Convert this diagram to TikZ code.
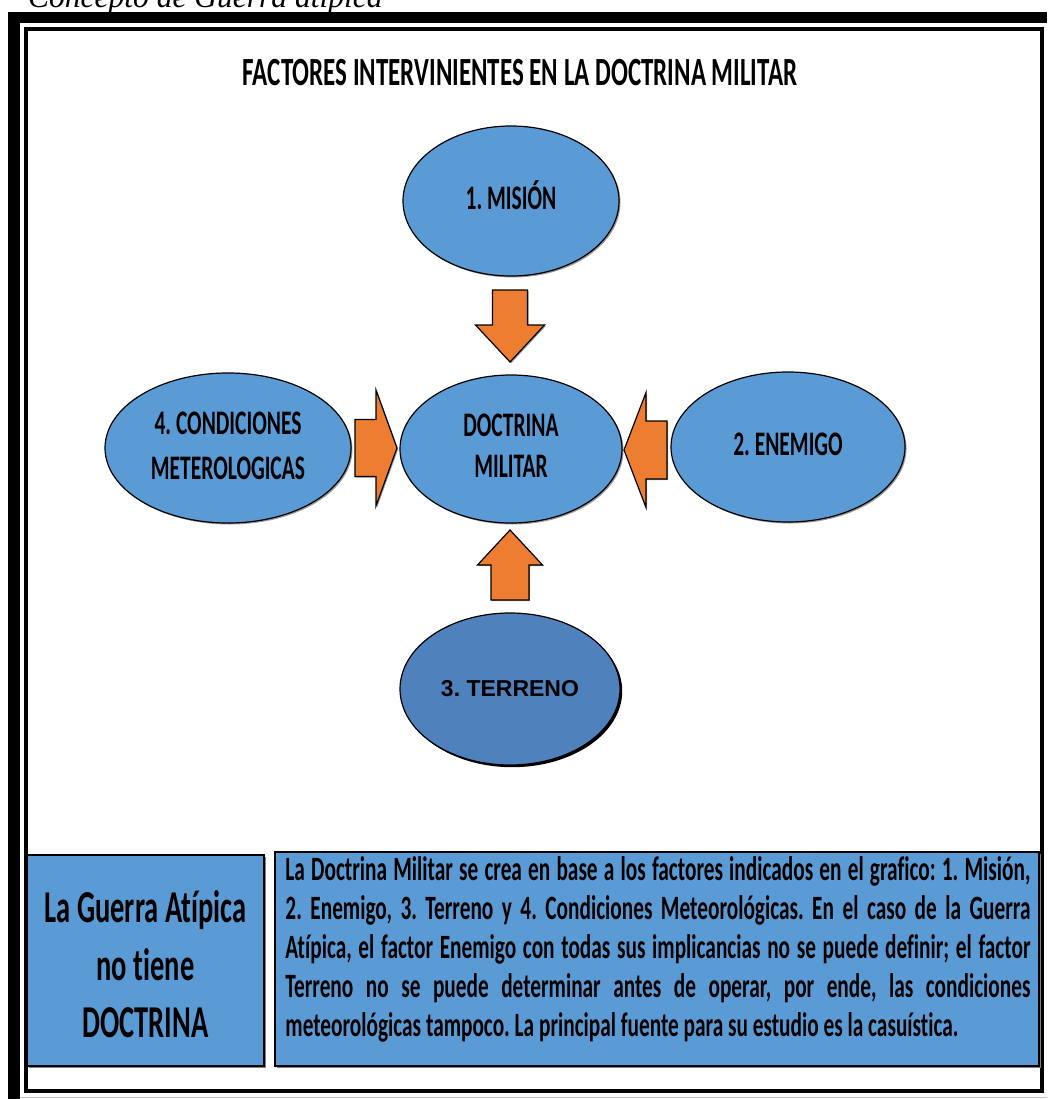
\documentclass[tikz,border=0pt]{standalone}
\usepackage{fontspec}
\usepackage{graphicx}
\usetikzlibrary{shapes.geometric,shadows}
\newfontfamily\carl[Ligatures=NoCommon]{Carlito}
\newfontfamily\arialf{Liberation Sans}
\newfontfamily\timesf{Liberation Serif}
\definecolor{elblue}{RGB}{91,155,213}
\definecolor{terblue}{RGB}{79,129,189}
\definecolor{arrorange}{RGB}{237,125,49}
\newcommand{\tallrows}[1]{\scalebox{1}[1.6]{\begin{tabular}{@{}c@{}}#1\end{tabular}}}
\frenchspacing

\begin{document}
\begin{tikzpicture}[x=1pt,y=-1pt,
    factor/.style={ellipse, draw=black, line width=1.2pt, fill=elblue, inner sep=0pt,
      general shadow={fill=black!40, shadow xshift=1.5pt, shadow yshift=-1.5pt},
      font=\carl\bfseries\fontsize{21.5}{25.5}\selectfont},
    blockarr/.style={draw=black, line width=1.2pt, fill=arrorange, line join=miter,
      general shadow={fill=black!40, shadow xshift=1.2pt, shadow yshift=-1.2pt}},
    infobox/.style={rectangle, draw=black, line width=1.5pt, fill=elblue, inner sep=0pt,
      general shadow={fill=black!50, shadow xshift=1.5pt, shadow yshift=-1.5pt}}]

          \useasboundingbox (0,0) rectangle (1047,1099);

          \node[font=\timesf\itshape\fontsize{31.5}{36}\selectfont, anchor=base west, inner sep=0pt] (caption) at (28,8) {Concepto de Guerra atípica};

          \fill (8,12) rectangle (20,1099);
          \fill (8,12) rectangle (1047,23);
          \draw[line width=4pt] (25.5,29.5) rectangle (1042,1090.5);
          \draw[black!25, line width=1.5pt] (20,1097.5) -- (1047,1097.5);

          \node[font=\carl\bfseries\fontsize{25}{28}\selectfont] (title) at (520,77) {\tallrows{FACTORES INTERVINIENTES EN LA DOCTRINA MILITAR}};

          \node[factor, minimum width=216pt, minimum height=150pt] (mision) at (511,201) {\tallrows{1. MISIÓN}};
          \node[factor, minimum width=222pt, minimum height=148pt] (doctrina) at (511,449) {\tallrows{DOCTRINA\\MILITAR}};
          \node[factor, minimum width=234pt, minimum height=150pt] (enemigo) at (788,447) {\tallrows{2. ENEMIGO}};
          \node[factor, minimum width=246pt, minimum height=150pt, font=\carl\bfseries\fontsize{21.5}{28}\selectfont] (condic) at (228,448) {\tallrows{4. CONDICIONES\\METEROLOGICAS}};
          \node[factor, fill=terblue, minimum width=220pt, minimum height=152pt,
            general shadow={fill=black, shadow xshift=2.2pt, shadow yshift=-2.2pt},
            font=\arialf\bfseries\fontsize{23}{27}\selectfont] (terreno) at (510,689) {3. TERRENO};

          \foreach \px/\py/\rot/\len/\hl/\hw/\sw in {510/290/-90/72/37/34.5/17.5, 510/600/90/70/35/32.5/19, 355/448/0/42/21/58/28.5, 667/450/180/43/22/57.5/29}{
            \draw[blockarr, shift={(\px,\py)}, rotate=\rot] (0,-\sw) -- ({\len-\hl},-\sw) -- ({\len-\hl},-\hw) -- (\len,0) -- ({\len-\hl},\hw) -- ({\len-\hl},\sw) -- (0,\sw) -- cycle;
          }

          \node[infobox, minimum width=237pt, minimum height=211pt, font=\carl\bfseries\fontsize{28.5}{36}\selectfont] (nodoc) at (145.5,960.5) {\raisebox{-8pt}[\height][\depth]{\tallrows{La Guerra Atípica\\no tiene\\DOCTRINA}}};
          \node[infobox, minimum width=764pt, minimum height=214pt] (desc) at (657,959) {};
          \node[anchor=north west, inner sep=0pt] (desctxt) at ([xshift=11pt, yshift=-5pt]desc.north west)
            {\scalebox{1}[1.6]{\parbox{745pt}{\carl\bfseries\fontsize{21.3}{24.4}\selectfont\hyphenpenalty=10000\exhyphenpenalty=10000
            La Doctrina Militar se crea en base a los factores indicados en el grafico: 1. Misión,\linebreak
            2. Enemigo, 3. Terreno y 4. Condiciones Meteorológicas. En el caso de la Guerra\linebreak
            Atípica, el factor Enemigo con todas sus implicancias no se puede definir; el factor\linebreak
            Terreno no se puede determinar antes de operar, por ende, las condiciones\linebreak
            meteorológicas tampoco. La principal fuente para su estudio es la casuística.}}};
        \end{tikzpicture}
\end{document}
